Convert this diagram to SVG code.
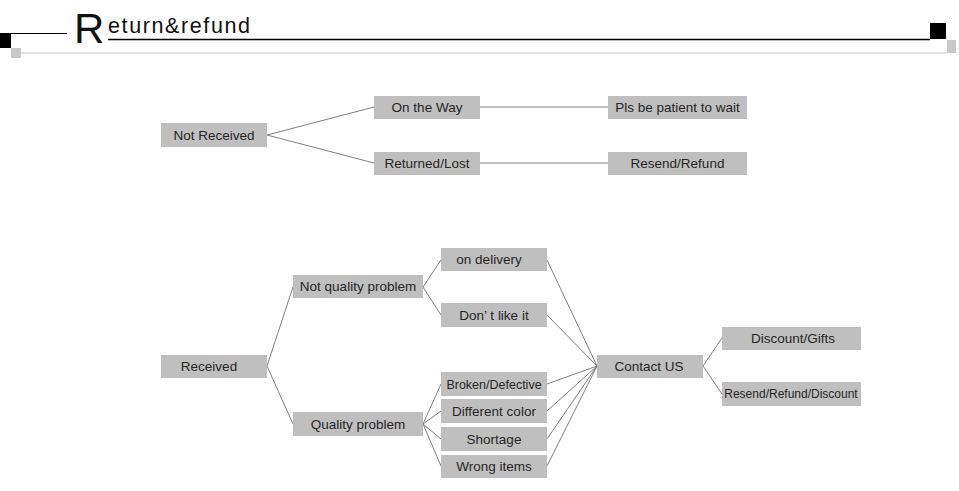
<svg xmlns="http://www.w3.org/2000/svg" width="959" height="491" viewBox="0 0 959 491">
<style>
.box{fill:#bfbfbf}
.t{font-family:"Liberation Sans",Arial,sans-serif;font-size:13.5px;fill:#262626;text-anchor:middle}
.s{font-size:12.5px}
.xs{font-size:12px}
.c line{stroke:#808080;stroke-width:1}
</style>
<rect width="959" height="491" fill="#ffffff"/>
<g id="header">
<rect x="0" y="33" width="11" height="15" fill="#000"/>
<line x1="11" y1="33.5" x2="67" y2="33.5" stroke="#000" stroke-width="1"/>
<rect x="11" y="48" width="10" height="10" fill="#c8c8c8"/>
<line x1="21" y1="53" x2="947" y2="53" stroke="#c8c8c8" stroke-width="1.2"/>
<line x1="108" y1="39.5" x2="930" y2="39.5" stroke="#000" stroke-width="1.3"/>
<rect x="930" y="23" width="16" height="16" fill="#000"/>
<rect x="947" y="40" width="9" height="13" fill="#c8c8c8"/>
<text x="74" y="43" font-family="'Liberation Sans',Arial,sans-serif" font-size="42" fill="#111">R</text>
<text x="108" y="33" font-family="'Liberation Sans',Arial,sans-serif" font-size="21.5" fill="#111" textLength="142" lengthAdjust="spacing">eturn&amp;refund</text>
</g>
<g id="connectors" class="c">
<line x1="267" y1="135" x2="374" y2="107"/>
<line x1="267" y1="135" x2="374" y2="163"/>
<line x1="480" y1="107" x2="608" y2="107"/>
<line x1="480" y1="163" x2="608" y2="163"/>
<line x1="267" y1="366" x2="293" y2="287"/>
<line x1="267" y1="366" x2="293" y2="424"/>
<line x1="423" y1="287" x2="441" y2="260"/>
<line x1="423" y1="287" x2="441" y2="315"/>
<line x1="423" y1="424" x2="441" y2="384"/>
<line x1="423" y1="424" x2="441" y2="411"/>
<line x1="423" y1="424" x2="441" y2="439"/>
<line x1="423" y1="424" x2="441" y2="466"/>
<line x1="547" y1="260" x2="597" y2="366"/>
<line x1="547" y1="315" x2="597" y2="366"/>
<line x1="547" y1="384" x2="597" y2="366"/>
<line x1="547" y1="411" x2="597" y2="366"/>
<line x1="547" y1="439" x2="597" y2="366"/>
<line x1="547" y1="466" x2="597" y2="366"/>
<line x1="703" y1="366" x2="722" y2="338"/>
<line x1="703" y1="366" x2="722" y2="394"/>
</g>
<g id="not-received"><rect class="box" x="161" y="123" width="106" height="24"/><text class="t" x="214" y="140">Not Received</text></g>
<g id="on-the-way"><rect class="box" x="374" y="96" width="106" height="23"/><text class="t" x="427" y="112">On the Way</text></g>
<g id="returned-lost"><rect class="box" x="374" y="152" width="106" height="23"/><text class="t" x="427" y="168">Returned/Lost</text></g>
<g id="pls-wait"><rect class="box" x="608" y="96" width="139" height="23"/><text class="t" x="677.5" y="112">Pls be patient to wait</text></g>
<g id="resend-refund"><rect class="box" x="608" y="152" width="139" height="23"/><text class="t" x="677.5" y="168">Resend/Refund</text></g>
<g id="received"><rect class="box" x="161" y="355" width="106" height="23"/><text class="t" x="209" y="371">Received</text></g>
<g id="not-quality"><rect class="box" x="293" y="275" width="130" height="23"/><text class="t" x="358" y="291">Not quality problem</text></g>
<g id="quality"><rect class="box" x="293" y="412" width="130" height="24"/><text class="t" x="358" y="429">Quality problem</text></g>
<g id="on-delivery"><rect class="box" x="441" y="248" width="106" height="23"/><text class="t" x="489" y="264">on delivery</text></g>
<g id="dont-like"><rect class="box" x="441" y="303" width="106" height="24"/><text class="t" x="494" y="320">Don’ t like it</text></g>
<g id="broken"><rect class="box" x="441" y="372" width="106" height="24"/><text class="t s" x="494" y="388.5">Broken/Defective</text></g>
<g id="different-color"><rect class="box" x="441" y="399" width="106" height="24"/><text class="t" x="494" y="416">Different color</text></g>
<g id="shortage"><rect class="box" x="441" y="427" width="106" height="24"/><text class="t" x="494" y="444">Shortage</text></g>
<g id="wrong-items"><rect class="box" x="441" y="455" width="106" height="23"/><text class="t" x="494" y="471">Wrong items</text></g>
<g id="contact-us"><rect class="box" x="597" y="355" width="106" height="23"/><text class="t" x="649" y="371">Contact US</text></g>
<g id="discount-gifts"><rect class="box" x="722" y="327" width="139" height="23"/><text class="t" x="793" y="343">Discount/Gifts</text></g>
<g id="resend-refund-discount"><rect class="box" x="722" y="382" width="139" height="24"/><text class="t xs" x="791" y="398">Resend/Refund/Discount</text></g>
</svg>
